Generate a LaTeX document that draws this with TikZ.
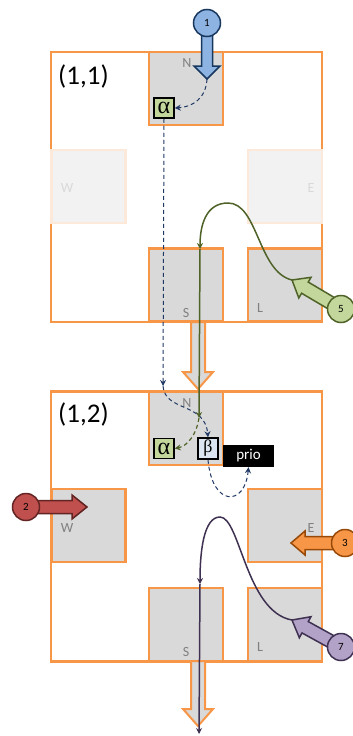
\documentclass[tikz,border=0pt]{standalone}
\usepackage{fontspec}
\setmainfont{Carlito}
\newfontfamily\greekfont{Liberation Serif}
\usetikzlibrary{calc,arrows.meta}
\definecolor{org}{HTML}{F79646}
\definecolor{portgrey}{HTML}{D9D9D9}
\definecolor{fadegrey}{HTML}{F2F2F2}
\definecolor{fadeorg}{HTML}{FDE9D9}
\definecolor{labgrey}{HTML}{808080}
\definecolor{fadelab}{HTML}{D9D9D9}
\definecolor{navy}{HTML}{203864}
\definecolor{dgreen}{HTML}{4F6228}
\definecolor{lgreen}{HTML}{C3D69B}
\definecolor{dpurple}{HTML}{3F3151}
\definecolor{lpurple}{HTML}{B3A2C7}
\definecolor{lblue}{HTML}{8DB3E2}
\definecolor{dblue}{HTML}{17375E}
\definecolor{betafill}{HTML}{DBE5F1}
\definecolor{lred}{HTML}{C0504D}
\definecolor{dred}{HTML}{632523}
\definecolor{dorange}{HTML}{984807}
\newcommand\blockarr[6]{%
  \coordinate (bab) at ($(#2)!#5!(#1)$);
  \draw[#6] ($(#1)!#3!90:(#2)$) -- ($(bab)!#3!90:(#2)$) -- ($(bab)!#4!90:(#2)$)
    -- (#2) -- ($(bab)!#4!-90:(#2)$) -- ($(bab)!#3!-90:(#2)$) -- ($(#1)!#3!-90:(#2)$) -- cycle;}
\begin{document}
\begin{tikzpicture}[x=1pt,y=-1pt,
  router/.style={draw=org, line width=2.2pt, fill=white, minimum width=271pt, minimum height=270pt, inner sep=0},
  port/.style={draw=org, line width=2.2pt, fill=portgrey, minimum width=74pt, minimum height=73pt, inner sep=0},
  faded/.style={port, draw=fadeorg, fill=fadegrey},
  plabel/.style={text=labgrey, font=\fontsize{14}{14}\selectfont, inner sep=0},
  flabel/.style={plabel, text=fadelab},
  title/.style={font=\fontsize{27}{27}\selectfont, inner sep=0, anchor=west},
  buf/.style={draw=black, line width=1.5pt, minimum width=20pt, minimum height=20pt, inner sep=0},
  num/.style={circle, minimum size=27pt, inner sep=0, line width=1.5pt, font=\fontsize{11}{11}\selectfont},
  tip/.style={-{Stealth[length=6pt,width=6pt]}},
  ndash/.style={draw=navy, line width=1pt, dash pattern=on 4pt off 3pt, tip},
  gdash/.style={draw=dgreen, line width=1.2pt, dash pattern=on 4pt off 3pt, tip},
  gline/.style={draw=dgreen, line width=1.5pt, tip},
  pline/.style={draw=dpurple, line width=1.5pt, tip}]
\useasboundingbox (0,0) rectangle (353,736);
% router (1,1)
\node[router] (r1) at (186.5,187) {};
\node[port] (n1) at (186,88.5) {};
\node[faded] (w1) at (88.5,186.5) {};
\node[faded] (e1) at (285,186.5) {};
\node[port] (s1) at (186,285) {};
\node[port] (l1) at (285,285) {};
\node[title] (t11) at (58,76) {(1,1)};
\node[plabel] (ln1) at (187,63) {N};
\node[flabel] (lw1) at (67,188) {W};
\node[flabel] (le1) at (311,188) {E};
\node[plabel] (ls1) at (186,313) {S};
\node[plabel] (ll1) at (260,308) {L};
% router (1,2)
\node[router] (r2) at (186.5,526.5) {};
\node[port] (n2) at (186,428.5) {};
\node[port] (w2) at (88.5,525.5) {};
\node[port] (e2) at (285,525.5) {};
\node[port] (s2) at (186,624.5) {};
\node[port] (l2) at (285,624.5) {};
\node[title] (t12) at (58,414) {(1,2)};
\node[plabel] (ln2) at (187,403) {N};
\node[plabel] (lw2) at (67,528) {W};
\node[plabel] (le2) at (311,528) {E};
\node[plabel] (ls2) at (186,652) {S};
\node[plabel] (ll2) at (260,647) {L};
% buffers
\node[buf, fill=lgreen, font=\greekfont\fontsize{24}{24}\selectfont] (a1) at (164,108) {α};
\node[buf, fill=lgreen, font=\greekfont\fontsize{24}{24}\selectfont] (a2) at (164,448.5) {α};
\node[buf, fill=betafill, minimum height=21pt, font=\greekfont\fontsize{18}{18}\selectfont] (b2) at (208,448.5) {β};
\node[fill=black, text=white, minimum width=51pt, minimum height=22pt, inner sep=0, font=\fontsize{15}{15}\selectfont] (prio) at (248.5,456) {prio};
% output arrows
\coordinate (o1s) at (198,322);
\coordinate (o1e) at (198,389);
\coordinate (o2s) at (198,661);
\coordinate (o2e) at (198,726);
\blockarr{o1s}{o1e}{7pt}{15pt}{17pt}{draw=org, fill=portgrey, line width=2pt}
\blockarr{o2s}{o2e}{7pt}{15pt}{17pt}{draw=org, fill=portgrey, line width=2pt}
% coordinates
\coordinate (c1c) at (207,23);
\coordinate (t1) at (207,79);
\coordinate (c2c) at (26,507);
\coordinate (t2) at (87,507);
\coordinate (c3c) at (345,543);
\coordinate (t3) at (291,543);
\coordinate (c5c) at (341,309);
\coordinate (t5) at (292,280);
\coordinate (c7c) at (341,647);
\coordinate (t7) at (292,620);
\coordinate (m1) at (163,386);
\coordinate (g1) at (200,249);
\coordinate (g2) at (199,418);
\coordinate (p1) at (200,584);
\coordinate (p2) at (199,734);
% navy dashed flow
\draw[ndash] (t1) .. controls (206,98) and (193,107) .. (a1.east);
\draw[ndash] (a1.south) -- (m1);
\draw[ndash] (m1) .. controls (165,412) and (205,402) .. (b2.north);
\draw[ndash] (b2.south) .. controls (212,507) and (245,507) .. (prio.south);
% green flow
\draw[gline] (t5) .. controls (258,272) and (258,203) .. (228,203) .. controls (206,203) and (200,225) .. (g1);
\draw[gline] (g1) -- (g2);
\draw[gdash] (g2) .. controls (197,433) and (188,446) .. (a2.east);
% purple flow
\draw[pline] (t7) .. controls (246,612) and (240,517) .. (220,517) .. controls (204,517) and (200,550) .. (p1);
\draw[pline] (p1) -- (p2);
% input arrows
\blockarr{c1c}{t1}{5.5pt}{13pt}{13pt}{draw=dblue, fill=lblue, line width=1.5pt}
\blockarr{c2c}{t2}{6.5pt}{12pt}{15pt}{draw=dred, fill=lred, line width=1.5pt}
\blockarr{c3c}{t3}{6.5pt}{12pt}{14pt}{draw=dorange, fill=org, line width=1.5pt}
\blockarr{c5c}{t5}{6.5pt}{12pt}{15pt}{draw=dgreen, fill=lgreen, line width=1.5pt}
\blockarr{c7c}{t7}{6.5pt}{12pt}{15pt}{draw=dpurple, fill=lpurple, line width=1.5pt}
\node[num, draw=dblue, fill=lblue] (c1) at (c1c) {1};
\node[num, draw=dred, fill=lred] (c2) at (c2c) {2};
\node[num, draw=dorange, fill=org] (c3) at (c3c) {3};
\node[num, draw=dgreen, fill=lgreen] (c5) at (c5c) {5};
\node[num, draw=dpurple, fill=lpurple] (c7) at (c7c) {7};
\end{tikzpicture}
\end{document}
